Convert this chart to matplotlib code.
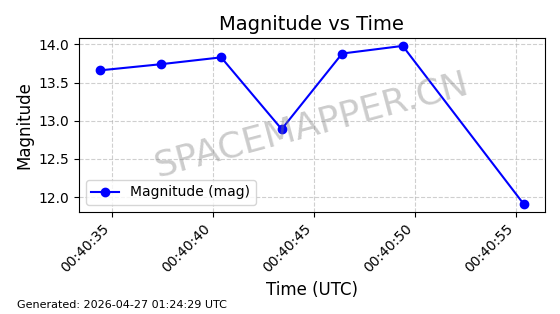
import matplotlib
matplotlib.use('Agg')
import matplotlib.pyplot as plt
import matplotlib.dates as mdates
import pandas as pd

times = ['2026-04-27 00:40:34.4', '2026-04-27 00:40:37.4', '2026-04-27 00:40:40.4',
         '2026-04-27 00:40:43.4', '2026-04-27 00:40:46.4', '2026-04-27 00:40:49.4',
         '2026-04-27 00:40:55.4']
magnitudes = [13.66, 13.74, 13.83, 12.89, 13.88, 13.98, 11.91]

t = pd.to_datetime(times)

fig, ax = plt.subplots(figsize=(5.6, 3.14), dpi=100)
ax.plot(t, magnitudes, 'o-', color='blue', label='Magnitude (mag)')

ax.set_title('Magnitude vs Time', fontsize=14)
ax.set_xlabel('Time (UTC)', fontsize=12)
ax.set_ylabel('Magnitude', fontsize=12)
ax.grid(True, linestyle='--', alpha=0.6)
ax.legend(loc='lower left')

ax.xaxis.set_major_locator(mdates.SecondLocator(bysecond=range(0, 60, 5)))
ax.xaxis.set_major_formatter(mdates.DateFormatter('%H:%M:%S'))
plt.setp(ax.get_xticklabels(), rotation=45, ha='right')

# watermark
ax.text(0.5, 0.5, 'SPACEMAPPER.CN', transform=ax.transAxes, fontsize=26,
        color='gray', alpha=0.4, rotation=15, ha='center', va='center')

fig.text(0.03, 0.02, 'Generated: 2026-04-27 01:24:29 UTC', fontsize=8)

fig.subplots_adjust(left=0.141, right=0.973, top=0.879, bottom=0.325)
fig.savefig('out.png', dpi=100)
